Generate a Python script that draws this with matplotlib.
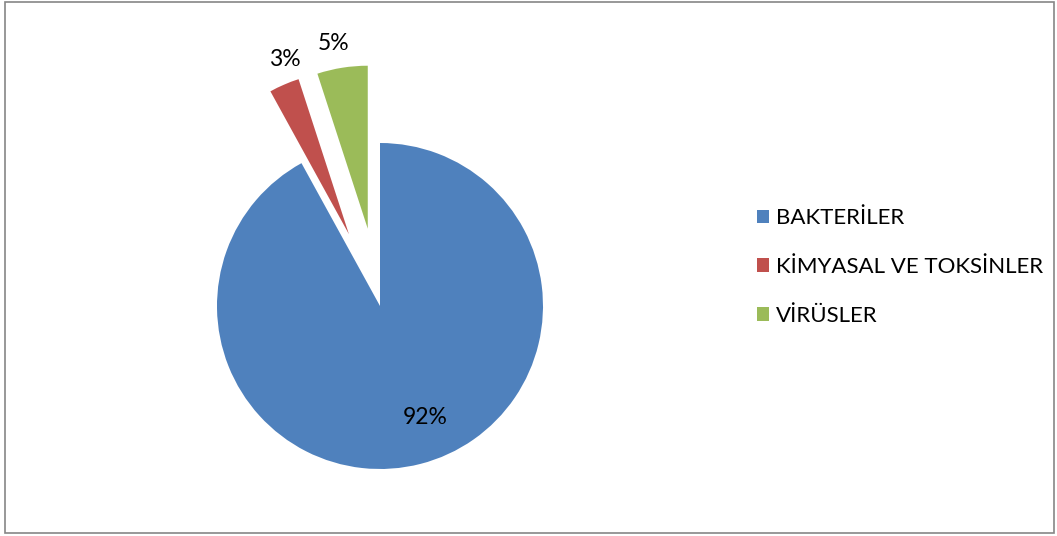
import matplotlib.pyplot as plt
import matplotlib.patches as mpatches

# data
categories = ['BAKTERİLER', 'KİMYASAL VE TOKSİNLER', 'VİRÜSLER']
shares = [92, 3, 5]
colors = ['#4F81BD', '#C0504D', '#9BBB59']
explode_frac = [0, 0.48, 0.48]

W, H = 1057, 536
R = 163
plt.rcParams['font.family'] = ['Lato', 'DejaVu Sans']

fig = plt.figure(figsize=(W / 100, H / 100), dpi=100)
ax = fig.add_axes([0, 0, 1, 1])

# pie in pixel units, clockwise from 12 o'clock; explode is in data units here
wedges, _ = ax.pie(shares, colors=colors, explode=[e * R for e in explode_frac],
                   startangle=90, counterclock=False, center=(380, H - 306),
                   radius=R, wedgeprops=dict(linewidth=0), frame=True)
ax.set_xlim(0, W)
ax.set_ylim(0, H)
ax.set_aspect('equal')
ax.axis('off')

# value labels
label_pos = [(425, H - 418), (285, H - 60), (334, H - 43)]
for v, (x, y) in zip(shares, label_pos):
    ax.text(x, y, f'{v}%', ha='center', va='center', fontsize=16.5, color='black')

fig.legend(wedges, categories, loc='center left',
           bbox_to_anchor=(746 / W, 1 - 267 / H), frameon=False,
           fontsize=16, handlelength=0.55, handleheight=0.55,
           handletextpad=0.3, labelspacing=1.3, borderpad=0)

# outer chart border
fig.patches.append(mpatches.Rectangle((4.5 / W, 3.5 / H), 1049 / W, 531 / H,
                                      transform=fig.transFigure, fill=False,
                                      edgecolor='#868686', linewidth=1.2))

fig.savefig('out.png', dpi=100)
